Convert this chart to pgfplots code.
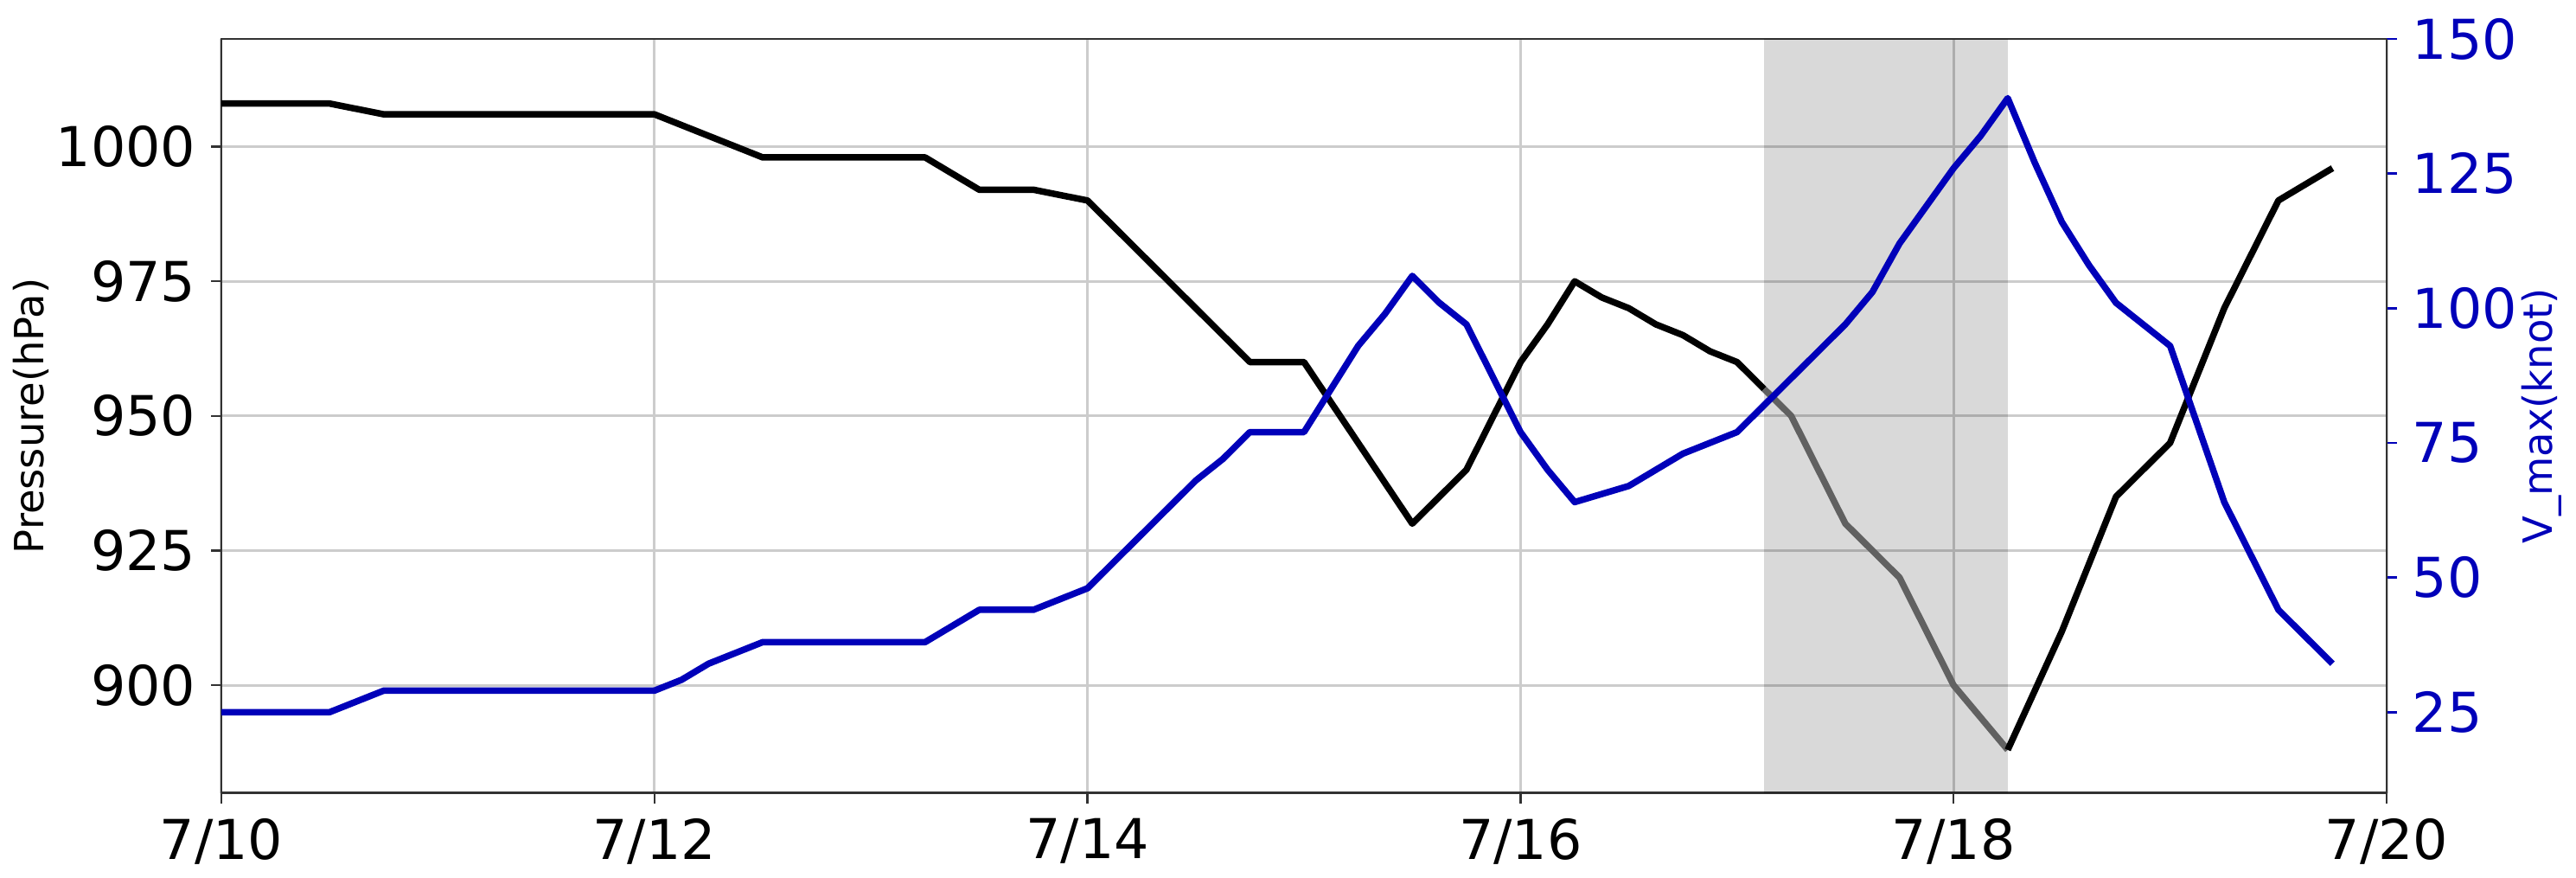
\documentclass[border=0pt]{standalone}
\usepackage{fontspec}
\setmainfont{DejaVu Sans}
\usepackage{pgfplots}
\pgfplotsset{compat=1.18}
\definecolor{vblue}{RGB}{0,0,185}
\definecolor{spine}{RGB}{50,50,50}

\pgfplotsset{
  base/.style={
    width=500.8pt, height=174.34pt, scale only axis,
    at={(0,0)}, anchor=south west,
    xmin=10, xmax=20,
    tick align=outside, major tick length=2.4pt,
    every tick/.style={line width=0.5pt, spine},
    tick label style={font=\fontsize{12.7}{15}\selectfont},
    label style={font=\fontsize{9.3}{11}\selectfont},
    /pgf/number format/assume math mode=true,
    /pgf/number format/1000 sep={},
    scaled ticks=false,
    axis line style={spine, line width=0.55pt},
  }
}

\begin{document}
\begin{tikzpicture}
\path[use as bounding box] (-51.2pt,-19.66pt) rectangle (544.6pt,183.34pt);

\begin{axis}[base,
  ymin=880, ymax=1020,
  ytick={900,925,...,1000},
  xtick={10,12,...,20},
  xticklabels={7/10,7/12,7/14,7/16,7/18,7/20},
  xtick pos=left, ytick pos=left,
  grid=major, grid style={gray!40, line width=0.6pt},
  ylabel={Pressure(hPa)},
  ylabel style={at={(axis description cs:-0.0877,0.5)}, anchor=center},
]
  % shaded period
  \addplot[draw=none, fill=black, fill opacity=0.15]
    coordinates {(17.125,880)(18.25,880)(18.25,1020)(17.125,1020)} -- cycle;
  % minimum pressure
  \addplot[black, line width=1.5pt, line join=round]
    coordinates {(10,1008)(10.25,1008)(10.5,1008)(10.75,1006)(11,1006)(11.25,1006)
      (11.5,1006)(11.75,1006)(12,1006)(12.25,1002)(12.5,998)(12.75,998)(13,998)
      (13.25,998)(13.5,992)(13.75,992)(14,990)(14.25,980)(14.5,970)(14.75,960)
      (15,960)(15.25,945)(15.5,930)(15.75,940)(16,960)(16.125,967)(16.25,975)
      (16.375,972)(16.5,970)(16.625,967)(16.75,965)(16.875,962)(17,960)(17.125,955)};
  \addplot[black!62, line width=1.5pt, line join=round]
    coordinates {(17.125,955)(17.25,950)(17.5,930)(17.75,920)(18,900)(18.25,888)};
  \addplot[black, line width=1.5pt, line join=round]
    coordinates {(18.25,888)(18.5,910)(18.75,935)(19,945)(19.25,970)(19.5,990)(19.75,996)};
\end{axis}

\begin{axis}[base,
  ymin=10, ymax=150,
  ytick={25,50,...,150},
  axis y line*=right, axis x line=none,
  every tick/.append style={vblue},
  yticklabel style={text=vblue},
  ylabel={V\_max(knot)},
  ylabel style={at={(axis description cs:1.0717,0.5)}, anchor=center, text=vblue},
]
  \addplot[vblue, line width=1.5pt, line join=round]
    coordinates {(10,25)(10.25,25)(10.5,25)(10.75,29)(11,29)(11.25,29)(11.5,29)
      (11.75,29)(12,29)(12.125,31)(12.25,34)(12.5,38)(12.75,38)(13,38)(13.25,38)
      (13.5,44)(13.75,44)(14,48)(14.25,58)(14.5,68)(14.625,72)(14.75,77)(15,77)
      (15.25,93)(15.375,99)(15.5,106)(15.625,101)(15.75,97)(16,77)(16.125,70)
      (16.25,64)(16.5,67)(16.625,70)(16.75,73)(17,77)(17.25,87)(17.5,97)
      (17.625,103)(17.75,112)(17.875,119)(18,126)(18.125,132)(18.25,139)
      (18.375,127)(18.5,116)(18.625,108)(18.75,101)(19,93)(19.25,64)(19.5,44)(19.75,34)};
\end{axis}
\end{tikzpicture}
\end{document}
